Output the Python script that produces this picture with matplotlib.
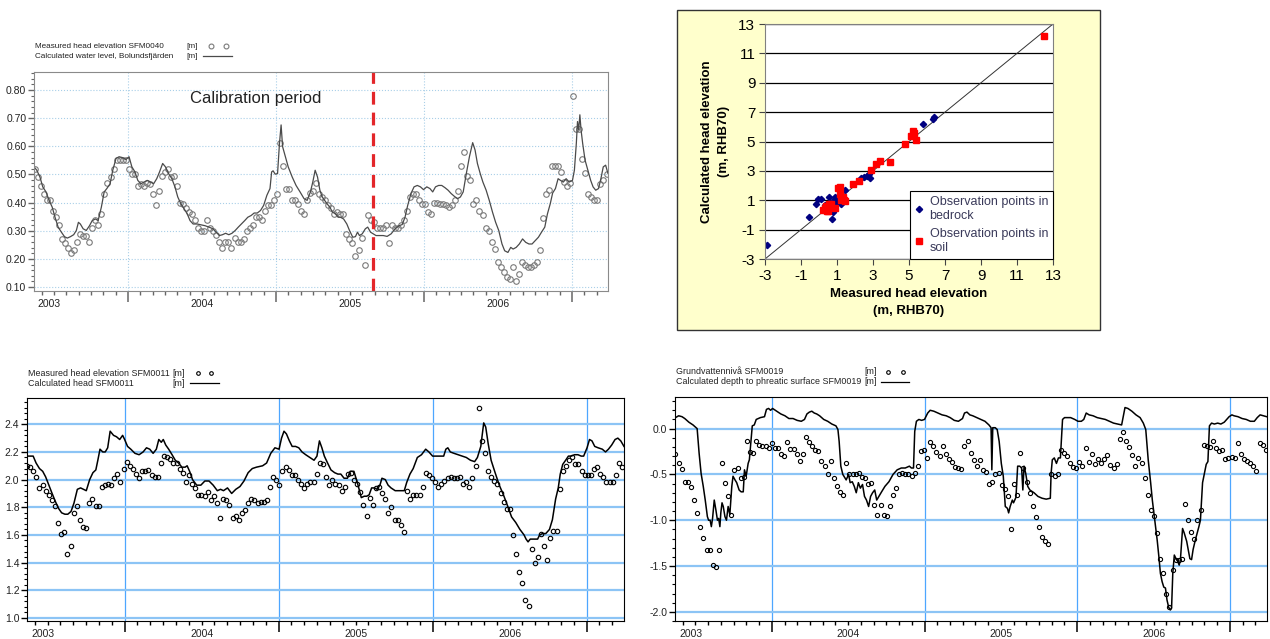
""" Groundwater head: measured vs calculated, four panels. """

import numpy as np
import matplotlib.pyplot as plt
from matplotlib.lines import Line2D
from matplotlib.patches import Rectangle
from matplotlib.ticker import MultipleLocator

plt.rcParams['font.family'] = ['Liberation Sans', 'DejaVu Sans']
plt.rcParams['axes.unicode_minus'] = False

W, H = 1270, 639

YEAR_BOUNDS = [2004, 2005, 2006, 2007]
YEAR_LABELS = ['2003', '2004', '2005', '2006']
YEAR_LABEL_POS = [2003.47, 2004.5, 2005.5, 2006.5]
T_START, T_END = 2003.366, 2007.243

# --- SFM0040 (top left) ---
sfm40_meas_t0, sfm40_meas_t1 = 2003.372, 2007.233
sfm40_meas = [0.52, 0.49, 0.46, 0.43, 0.41, 0.41, 0.37, 0.35, 0.32, 0.27,
              0.255, 0.24, 0.22, 0.23, 0.26, 0.29, 0.28, 0.28, 0.26, 0.31,
              0.34, 0.32, 0.36, 0.43, 0.47, 0.49, 0.52, 0.55, 0.55, 0.55,
              0.55, 0.52, 0.50, 0.50, 0.46, 0.465, 0.46, 0.47, 0.465, 0.43,
              0.39, 0.44, 0.495, 0.51, 0.52, 0.49, 0.495, 0.46, 0.40, 0.395,
              0.38, 0.365, 0.36, 0.34, 0.31, 0.30, 0.30, 0.34, 0.31, 0.30,
              0.285, 0.26, 0.24, 0.26, 0.26, 0.24, 0.275, 0.26, 0.26, 0.27,
              0.30, 0.31, 0.32, 0.35, 0.35, 0.34, 0.37, 0.39, 0.39, 0.41,
              0.43, 0.61, 0.53, 0.45, 0.45, 0.41, 0.41, 0.395, 0.37, 0.36,
              0.41, 0.435, 0.44, 0.47, 0.43, 0.42, 0.41, 0.39, 0.38, 0.36,
              0.365, 0.36, 0.36, 0.29, 0.27, 0.255, 0.21, 0.23, 0.275, 0.18,
              0.355, 0.34, 0.33, 0.31, 0.31, 0.31, 0.32, 0.255, 0.32, 0.31,
              0.31, 0.32, 0.34, 0.37, 0.42, 0.43, 0.43, 0.41, 0.395, 0.395,
              0.365, 0.36, 0.40, 0.40, 0.395, 0.395, 0.39, 0.385, 0.39, 0.41,
              0.44, 0.53, 0.58, 0.495, 0.48, 0.395, 0.41, 0.37, 0.355, 0.31,
              0.30, 0.26, 0.235, 0.19, 0.17, 0.155, 0.135, 0.13, 0.17, 0.12,
              0.145, 0.19, 0.18, 0.17, 0.17, 0.18, 0.19, 0.23, 0.345, 0.43,
              0.445, 0.53, 0.53, 0.53, 0.51, 0.475, 0.46, 0.47, 0.78, 0.66,
              0.66, 0.555, 0.505, 0.43, 0.42, 0.41, 0.41, 0.465, 0.48, 0.50]

sfm40_calc_t = [2003.366, 2003.385, 2003.406, 2003.425, 2003.447, 2003.468, 2003.489, 2003.508,
                2003.529, 2003.551, 2003.572, 2003.591, 2003.612, 2003.634, 2003.652, 2003.666,
                2003.679, 2003.698, 2003.719, 2003.741, 2003.759, 2003.781, 2003.799, 2003.821,
                2003.840, 2003.858, 2003.880, 2003.898, 2003.920, 2003.941, 2003.963, 2003.987,
                2004.008, 2004.027, 2004.048, 2004.067, 2004.088, 2004.110, 2004.131, 2004.152,
                2004.174, 2004.195, 2004.214, 2004.235, 2004.254, 2004.275, 2004.297, 2004.318,
                2004.337, 2004.358, 2004.380, 2004.401, 2004.420, 2004.441, 2004.468, 2004.495,
                2004.521, 2004.548, 2004.575, 2004.596, 2004.618, 2004.639, 2004.660, 2004.682,
                2004.703, 2004.725, 2004.746, 2004.767, 2004.789, 2004.810, 2004.832, 2004.853,
                2004.874, 2004.896, 2004.917, 2004.939, 2004.960, 2004.971, 2004.981, 2004.995,
                2005.011, 2005.024, 2005.035, 2005.045, 2005.061, 2005.083, 2005.110, 2005.136,
                2005.163, 2005.190, 2005.211, 2005.233, 2005.249, 2005.265, 2005.281, 2005.297,
                2005.313, 2005.329, 2005.345, 2005.364, 2005.382, 2005.404, 2005.420, 2005.436,
                2005.457, 2005.479, 2005.497, 2005.519, 2005.537, 2005.551, 2005.564, 2005.583,
                2005.604, 2005.620, 2005.639, 2005.658, 2005.676, 2005.698, 2005.725, 2005.751,
                2005.778, 2005.805, 2005.832, 2005.853, 2005.872, 2005.890, 2005.912, 2005.933,
                2005.955, 2005.976, 2005.997, 2006.019, 2006.040, 2006.059, 2006.078, 2006.099,
                2006.120, 2006.142, 2006.163, 2006.184, 2006.206, 2006.227, 2006.246, 2006.265,
                2006.286, 2006.307, 2006.329, 2006.345, 2006.361, 2006.380, 2006.398, 2006.420,
                2006.441, 2006.463, 2006.484, 2006.505, 2006.527, 2006.545, 2006.567, 2006.586,
                2006.602, 2006.623, 2006.644, 2006.666, 2006.687, 2006.709, 2006.730, 2006.751,
                2006.773, 2006.794, 2006.816, 2006.834, 2006.853, 2006.869, 2006.888, 2006.906,
                2006.922, 2006.941, 2006.960, 2006.981, 2007.003, 2007.016, 2007.029, 2007.037,
                2007.045, 2007.053, 2007.061, 2007.072, 2007.088, 2007.107, 2007.126, 2007.142,
                2007.160, 2007.179, 2007.195, 2007.211, 2007.227, 2007.243]
sfm40_calc_v = [0.527, 0.515, 0.491, 0.456, 0.438, 0.408, 0.384, 0.348, 0.313, 0.295, 0.279,
                0.274, 0.279, 0.286, 0.301, 0.330, 0.324, 0.307, 0.301, 0.318, 0.336, 0.342,
                0.336, 0.384, 0.438, 0.450, 0.467, 0.515, 0.557, 0.563, 0.560, 0.553, 0.563,
                0.527, 0.509, 0.479, 0.467, 0.473, 0.479, 0.473, 0.467, 0.485, 0.509, 0.539,
                0.527, 0.503, 0.485, 0.456, 0.420, 0.396, 0.378, 0.360, 0.336, 0.324, 0.324,
                0.321, 0.318, 0.313, 0.307, 0.295, 0.283, 0.286, 0.291, 0.286, 0.291, 0.301,
                0.313, 0.324, 0.336, 0.348, 0.354, 0.363, 0.363, 0.372, 0.390, 0.426, 0.450,
                0.509, 0.513, 0.501, 0.503, 0.610, 0.676, 0.599, 0.569, 0.527, 0.491, 0.461,
                0.438, 0.414, 0.408, 0.438, 0.473, 0.515, 0.491, 0.444, 0.420, 0.408, 0.396,
                0.384, 0.366, 0.360, 0.348, 0.348, 0.342, 0.324, 0.301, 0.277, 0.279, 0.295,
                0.283, 0.289, 0.307, 0.313, 0.295, 0.289, 0.283, 0.283, 0.283, 0.280, 0.289,
                0.307, 0.318, 0.322, 0.348, 0.390, 0.432, 0.456, 0.461, 0.456, 0.446, 0.456,
                0.450, 0.438, 0.456, 0.461, 0.461, 0.453, 0.444, 0.432, 0.422, 0.414, 0.420,
                0.438, 0.503, 0.563, 0.613, 0.587, 0.539, 0.503, 0.473, 0.444, 0.408, 0.366,
                0.330, 0.301, 0.253, 0.229, 0.223, 0.241, 0.235, 0.241, 0.253, 0.271, 0.259,
                0.253, 0.253, 0.265, 0.277, 0.295, 0.313, 0.360, 0.396, 0.434, 0.450, 0.485,
                0.479, 0.473, 0.485, 0.473, 0.479, 0.515, 0.610, 0.688, 0.658, 0.712, 0.658,
                0.610, 0.551, 0.515, 0.479, 0.456, 0.444, 0.450, 0.485, 0.527, 0.533, 0.503]
CALIBRATION_END = 2005.658

# --- scatter (top right) ---
bedrock_x = [-2.91, -0.57, -0.14, -0.03, 0.09, 0.54, 0.69, 0.75, 0.71, 0.84, 0.90, 1.12, 1.20,
             1.44, 2.33, 2.50, 2.67, 2.76, 2.82, 5.77, 6.34, 6.37, 0.48, 0.35, 0.95, 1.29]
bedrock_y = [-2.07, -0.14, 0.72, 1.08, 1.08, 1.19, 0.76, 0.17, -0.28, 1.03, 1.22, 0.94, 0.74,
             1.67, 2.51, 2.55, 2.62, 2.78, 2.53, 6.18, 6.52, 6.70, 0.35, 0.69, 0.81, 1.03]
soil_x = [0.20, 0.33, 0.43, 0.52, 0.58, 0.39, 0.48, 0.67, 0.90, 1.03, 1.18, 1.18, 1.31, 1.37,
          1.46, 1.22, 1.89, 2.23, 2.89, 3.14, 3.38, 3.93, 4.77, 5.11, 5.21, 5.26, 5.41, 12.49]
soil_y = [0.31, 0.47, 0.29, 0.58, 0.72, 0.58, 0.24, 0.76, 0.49, 1.83, 1.87, 1.44, 1.22, 1.03,
          0.92, 0.99, 2.12, 2.33, 3.03, 3.46, 3.69, 3.62, 4.84, 5.39, 5.73, 5.57, 5.11, 12.21]
SC_RANGE = (-3, 13)

# --- SFM0011 (bottom left) ---
sfm11_meas_t0, sfm11_meas_t1 = 2003.366, 2007.230
sfm11_meas = [2.10, 2.09, 2.06, 2.02, 1.94, 1.96, 1.92, 1.89, 1.85, 1.81,
              1.69, 1.61, 1.62, 1.46, 1.52, 1.76, 1.81, 1.71, 1.66, 1.65,
              1.83, 1.86, 1.81, 1.81, 1.95, 1.96, 1.97, 1.96, 2.01, 2.04,
              1.98, 2.08, 2.13, 2.10, 2.08, 2.04, 2.01, 2.06, 2.06, 2.07,
              2.03, 2.02, 2.02, 2.12, 2.17, 2.16, 2.15, 2.12, 2.12, 2.08,
              2.05, 1.98, 2.03, 1.97, 1.94, 1.89, 1.89, 1.88, 1.91, 1.85,
              1.88, 1.83, 1.72, 1.86, 1.85, 1.82, 1.72, 1.74, 1.71, 1.76,
              1.78, 1.83, 1.86, 1.85, 1.83, 1.84, 1.84, 1.85, 1.95, 2.02,
              2.00, 1.96, 2.06, 2.09, 2.07, 2.03, 2.03, 2.00, 1.97, 1.94,
              1.97, 1.98, 1.98, 2.04, 2.12, 2.11, 2.02, 1.96, 2.00, 1.97,
              1.96, 1.92, 1.95, 2.04, 2.05, 2.00, 1.97, 1.91, 1.82, 1.74,
              1.87, 1.82, 1.94, 1.95, 1.90, 1.86, 1.76, 1.80, 1.71, 1.71,
              1.67, 1.62, 1.92, 1.86, 1.89, 1.89, 1.89, 1.95, 2.05, 2.03,
              2.01, 1.98, 1.95, 1.97, 1.99, 2.01, 2.02, 2.01, 2.01, 2.02,
              1.97, 1.98, 1.95, 2.01, 2.10, 2.52, 2.28, 2.19, 2.06, 2.02,
              1.99, 1.97, 1.90, 1.84, 1.79, 1.79, 1.60, 1.46, 1.33, 1.25,
              1.13, 1.09, 1.50, 1.40, 1.44, 1.61, 1.52, 1.42, 1.58, 1.63,
              1.63, 1.93, 2.06, 2.10, 2.14, 2.16, 2.11, 2.11, 2.06, 2.03,
              2.03, 2.03, 2.08, 2.09, 2.04, 2.02, 1.98, 1.98, 1.98, 2.03,
              2.12, 2.09]

sfm11_calc_t = [2003.366, 2003.385, 2003.406, 2003.425, 2003.447, 2003.468, 2003.487, 2003.508,
                2003.529, 2003.551, 2003.572, 2003.591, 2003.612, 2003.631, 2003.652, 2003.671,
                2003.693, 2003.714, 2003.733, 2003.751, 2003.773, 2003.794, 2003.813, 2003.826,
                2003.840, 2003.858, 2003.874, 2003.890, 2003.906, 2003.928, 2003.947, 2003.968,
                2003.987, 2004.000, 2004.019, 2004.040, 2004.067, 2004.094, 2004.120, 2004.142,
                2004.163, 2004.185, 2004.206, 2004.222, 2004.238, 2004.251, 2004.267, 2004.286,
                2004.308, 2004.329, 2004.350, 2004.372, 2004.393, 2004.406, 2004.422, 2004.441,
                2004.468, 2004.495, 2004.521, 2004.548, 2004.575, 2004.602, 2004.623, 2004.642,
                2004.668, 2004.695, 2004.722, 2004.749, 2004.775, 2004.802, 2004.829, 2004.856,
                2004.896, 2004.922, 2004.949, 2004.976, 2005.003, 2005.019, 2005.035, 2005.051,
                2005.070, 2005.088, 2005.110, 2005.131, 2005.152, 2005.176, 2005.203, 2005.230,
                2005.249, 2005.265, 2005.281, 2005.297, 2005.318, 2005.340, 2005.364, 2005.385,
                2005.404, 2005.425, 2005.447, 2005.465, 2005.489, 2005.511, 2005.537, 2005.556,
                2005.572, 2005.588, 2005.604, 2005.623, 2005.639, 2005.658, 2005.671, 2005.693,
                2005.711, 2005.730, 2005.757, 2005.791, 2005.816, 2005.832, 2005.853, 2005.874,
                2005.901, 2005.928, 2005.955, 2005.976, 2006.000, 2006.019, 2006.051, 2006.072,
                2006.086, 2006.099, 2006.115, 2006.139, 2006.166, 2006.193, 2006.219, 2006.246,
                2006.273, 2006.291, 2006.313, 2006.332, 2006.345, 2006.361, 2006.380, 2006.406,
                2006.433, 2006.460, 2006.487, 2006.513, 2006.540, 2006.567, 2006.594, 2006.607,
                2006.620, 2006.634, 2006.660, 2006.682, 2006.695, 2006.714, 2006.735, 2006.759,
                2006.778, 2006.799, 2006.816, 2006.829, 2006.845, 2006.864, 2006.882, 2006.901,
                2006.922, 2006.944, 2006.965, 2006.981, 2007.003, 2007.019, 2007.035, 2007.053,
                2007.075, 2007.102, 2007.123, 2007.142, 2007.163, 2007.185, 2007.203, 2007.222,
                2007.243]
sfm11_calc_v = [2.17, 2.17, 2.17, 2.12, 2.08, 2.06, 2.02, 1.96, 1.90, 1.84, 1.79, 1.76, 1.75,
                1.75, 1.77, 1.83, 1.93, 1.94, 1.93, 1.92, 2.00, 2.05, 2.07, 2.14, 2.22, 2.20,
                2.20, 2.23, 2.35, 2.32, 2.31, 2.29, 2.32, 2.29, 2.24, 2.22, 2.19, 2.18, 2.20,
                2.23, 2.22, 2.19, 2.22, 2.29, 2.27, 2.29, 2.25, 2.22, 2.18, 2.14, 2.12, 2.09,
                2.09, 2.10, 2.06, 2.00, 1.96, 1.96, 1.99, 1.99, 1.96, 1.92, 1.93, 1.92, 1.94,
                1.90, 1.93, 1.95, 1.99, 2.05, 2.08, 2.09, 2.10, 2.12, 2.19, 2.23, 2.22, 2.30,
                2.35, 2.33, 2.28, 2.24, 2.24, 2.23, 2.20, 2.18, 2.16, 2.14, 2.17, 2.28, 2.23,
                2.17, 2.12, 2.07, 2.05, 2.04, 2.04, 2.01, 2.01, 2.06, 2.06, 1.98, 1.87, 1.88,
                1.88, 1.89, 1.94, 1.94, 1.93, 1.96, 2.01, 2.00, 1.96, 1.94, 1.92, 1.92, 1.92,
                1.98, 2.04, 2.08, 2.16, 2.18, 2.22, 2.20, 2.17, 2.17, 2.17, 2.17, 2.22, 2.23,
                2.20, 2.19, 2.18, 2.17, 2.16, 2.14, 2.13, 2.16, 2.24, 2.41, 2.38, 2.26, 2.14,
                2.05, 1.96, 1.89, 1.81, 1.73, 1.69, 1.64, 1.60, 1.57, 1.55, 1.57, 1.57, 1.57,
                1.60, 1.61, 1.61, 1.64, 1.71, 1.86, 1.94, 2.04, 2.11, 2.14, 2.17, 2.17, 2.18,
                2.18, 2.17, 2.17, 2.23, 2.29, 2.28, 2.24, 2.23, 2.22, 2.20, 2.22, 2.25, 2.29,
                2.30, 2.28, 2.24]

# --- SFM0019 (bottom right) ---
sfm19_meas_t0, sfm19_meas_t1 = 2003.369, 2007.235
sfm19_meas = [-0.28, -0.38, -0.44, -0.58, -0.58, -0.64, -0.78, -0.92, -1.07, -1.19,
              -1.32, -1.32, -1.49, -1.51, -1.32, -0.38, -0.59, -0.74, -0.94, -0.45,
              -0.43, -0.54, -0.53, -0.13, -0.25, -0.27, -0.14, -0.18, -0.19, -0.19,
              -0.21, -0.16, -0.21, -0.21, -0.28, -0.30, -0.15, -0.22, -0.22, -0.28,
              -0.35, -0.28, -0.09, -0.15, -0.19, -0.23, -0.24, -0.35, -0.41, -0.50,
              -0.35, -0.54, -0.63, -0.69, -0.72, -0.38, -0.50, -0.50, -0.50, -0.49,
              -0.53, -0.54, -0.61, -0.59, -0.83, -0.94, -0.83, -0.94, -0.95, -0.85,
              -0.72, -0.65, -0.50, -0.49, -0.50, -0.50, -0.52, -0.49, -0.41, -0.24,
              -0.23, -0.32, -0.15, -0.19, -0.25, -0.30, -0.19, -0.28, -0.33, -0.36,
              -0.42, -0.43, -0.44, -0.19, -0.14, -0.27, -0.34, -0.41, -0.34, -0.45,
              -0.47, -0.61, -0.58, -0.50, -0.49, -0.62, -0.66, -0.74, -1.10, -0.60,
              -0.73, -0.27, -0.43, -0.58, -0.70, -0.85, -0.96, -1.07, -1.18, -1.23,
              -1.26, -0.50, -0.52, -0.50, -0.23, -0.27, -0.30, -0.38, -0.42, -0.43,
              -0.36, -0.41, -0.21, -0.36, -0.28, -0.39, -0.33, -0.38, -0.33, -0.29,
              -0.40, -0.43, -0.39, -0.11, -0.04, -0.13, -0.20, -0.29, -0.41, -0.32,
              -0.37, -0.54, -0.72, -0.89, -0.95, -1.14, -1.42, -1.58, -1.80, -1.95,
              -1.54, -1.43, -1.43, -1.42, -0.82, -1.00, -1.13, -1.21, -1.00, -0.89,
              -0.18, -0.19, -0.20, -0.13, -0.21, -0.24, -0.23, -0.33, -0.32, -0.31,
              -0.32, -0.16, -0.28, -0.33, -0.35, -0.38, -0.41, -0.46, -0.16, -0.18,
              -0.23]

sfm19_calc_t = [2003.369, 2003.390, 2003.412, 2003.430, 2003.457, 2003.484, 2003.511, 2003.524,
                2003.537, 2003.551, 2003.564, 2003.578, 2003.586, 2003.596, 2003.604, 2003.612,
                2003.623, 2003.634, 2003.644, 2003.652, 2003.660, 2003.666, 2003.674, 2003.682,
                2003.693, 2003.703, 2003.714, 2003.725, 2003.738, 2003.746, 2003.759, 2003.770,
                2003.786, 2003.799, 2003.813, 2003.821, 2003.832, 2003.845, 2003.853, 2003.872,
                2003.885, 2003.898, 2003.925, 2003.952, 2003.965, 2003.979, 2003.992, 2004.005,
                2004.032, 2004.059, 2004.086, 2004.112, 2004.139, 2004.166, 2004.193, 2004.214,
                2004.230, 2004.246, 2004.262, 2004.278, 2004.294, 2004.313, 2004.340, 2004.366,
                2004.393, 2004.406, 2004.420, 2004.433, 2004.441, 2004.452, 2004.465, 2004.487,
                2004.503, 2004.513, 2004.527, 2004.540, 2004.553, 2004.567, 2004.580, 2004.594,
                2004.607, 2004.620, 2004.634, 2004.647, 2004.660, 2004.674, 2004.687, 2004.701,
                2004.719, 2004.741, 2004.767, 2004.794, 2004.821, 2004.848, 2004.874, 2004.901,
                2004.914, 2004.928, 2004.936, 2004.947, 2004.963, 2004.981, 2005.000, 2005.021,
                2005.037, 2005.061, 2005.088, 2005.115, 2005.142, 2005.168, 2005.195, 2005.222,
                2005.249, 2005.262, 2005.278, 2005.297, 2005.316, 2005.342, 2005.369, 2005.396,
                2005.422, 2005.436, 2005.441, 2005.447, 2005.463, 2005.476, 2005.489, 2005.503,
                2005.516, 2005.529, 2005.543, 2005.551, 2005.561, 2005.575, 2005.583, 2005.599,
                2005.610, 2005.623, 2005.636, 2005.644, 2005.652, 2005.663, 2005.676, 2005.690,
                2005.717, 2005.743, 2005.770, 2005.797, 2005.824, 2005.829, 2005.837, 2005.850,
                2005.864, 2005.877, 2005.890, 2005.904, 2005.917, 2005.936, 2005.957, 2005.984,
                2006.005, 2006.027, 2006.043, 2006.059, 2006.078, 2006.104, 2006.131, 2006.158,
                2006.184, 2006.211, 2006.238, 2006.265, 2006.291, 2006.313, 2006.332, 2006.358,
                2006.385, 2006.412, 2006.433, 2006.449, 2006.465, 2006.481, 2006.492, 2006.508,
                2006.524, 2006.535, 2006.545, 2006.556, 2006.567, 2006.578, 2006.588, 2006.599,
                2006.610, 2006.618, 2006.626, 2006.636, 2006.647, 2006.658, 2006.668, 2006.676,
                2006.690, 2006.701, 2006.717, 2006.727, 2006.738, 2006.749, 2006.759, 2006.773,
                2006.786, 2006.797, 2006.807, 2006.821, 2006.832, 2006.845, 2006.856, 2006.866,
                2006.880, 2006.898, 2006.920, 2006.941, 2006.963, 2006.979, 2006.995, 2007.013,
                2007.027, 2007.053, 2007.080, 2007.107, 2007.134, 2007.160, 2007.179, 2007.198,
                2007.219, 2007.241]
sfm19_calc_v = [0.12, 0.14, 0.13, 0.11, 0.07, 0.04, 0.00, -0.27, -0.49, -0.63, -0.78, -0.96,
                -1.00, -1.00, -1.07, -0.98, -0.78, -0.89, -1.00, -0.98, -1.07, -0.92, -0.81,
                -0.85, -0.96, -1.00, -0.85, -0.94, -0.63, -0.52, -0.56, -0.59, -0.67, -0.69,
                -0.69, -0.45, -0.52, -0.38, -0.34, 0.03, 0.04, 0.10, 0.12, 0.13, 0.21, 0.22,
                0.20, 0.22, 0.19, 0.16, 0.14, 0.11, 0.11, 0.09, 0.08, 0.10, 0.16, 0.18, 0.19,
                0.17, 0.16, 0.14, 0.10, 0.08, 0.05, 0.04, 0.03, -0.01, -0.14, -0.41, -0.50,
                -0.56, -0.50, -0.59, -0.58, -0.63, -0.70, -0.59, -0.65, -0.61, -0.74, -0.78,
                -0.85, -0.74, -0.70, -0.67, -0.78, -0.74, -0.69, -0.63, -0.58, -0.50, -0.45,
                -0.43, -0.43, -0.41, -0.43, -0.43, -0.03, 0.08, 0.10, 0.09, 0.10, 0.17, 0.20,
                0.19, 0.17, 0.15, 0.14, 0.12, 0.09, 0.08, 0.11, 0.17, 0.18, 0.15, 0.14, 0.12,
                0.10, 0.08, 0.04, 0.01, -0.45, 0.01, 0.01, -0.01, -0.14, -0.38, -0.52, -0.85,
                -0.87, -0.92, -0.85, -0.78, -0.81, -0.75, -0.41, -0.41, -0.43, -0.67, -0.41,
                -0.49, -0.63, -0.67, -0.70, -0.74, -0.76, -0.77, -0.76, -0.49, -0.34, -0.32,
                -0.38, -0.32, -0.32, 0.10, 0.12, 0.12, 0.12, 0.10, 0.08, 0.08, 0.10, 0.17,
                0.15, 0.14, 0.12, 0.11, 0.10, 0.08, 0.06, 0.05, 0.04, 0.23, 0.22, 0.19, 0.15,
                0.12, 0.06, -0.01, -0.34, -0.59, -0.78, -1.00, -1.22, -1.40, -1.58, -1.67,
                -1.73, -1.74, -1.87, -1.95, -1.98, -1.96, -1.58, -1.38, -1.42, -1.45, -1.49,
                -1.43, -1.09, -1.14, -1.23, -1.32, -1.42, -1.43, -1.32, -1.22, -1.14, -1.07,
                -1.00, -0.59, -0.50, -0.39, -0.36, 0.03, 0.06, 0.05, 0.06, 0.05, 0.07, 0.10,
                0.13, 0.15, 0.14, 0.13, 0.11, 0.10, 0.08, 0.08, 0.12, 0.15, 0.14, 0.13]


def fig_rect(left, top, right, bottom):
    """Pixel box -> figure fraction rect."""
    return [left / W, 1 - bottom / H, (right - left) / W, (bottom - top) / H]


def header(lines, x0, y0, unit_x, dots_x, line_x, mcolor, lcolor, ms, fs=6.4):
    """Text legend above a time-series panel."""
    for i, txt in enumerate(lines):
        y = 1 - (y0 + 10 * i) / H
        fig.text(x0 / W, y, txt, fontsize=fs, va='center', ha='left', color='#222222')
        fig.text(unit_x / W, y, '[m]', fontsize=fs, va='center', ha='left', color='#222222')
    fig.add_artist(Line2D([x / W for x in dots_x], [1 - y0 / H] * 2, ls='none', marker='o',
                          ms=ms, mfc='none', mec=mcolor, mew=0.8))
    fig.add_artist(Line2D([x / W for x in line_x], [1 - (y0 + 10) / H] * 2, color=lcolor, lw=0.9))


def time_axes(ax, ylim, ymajor, yminor, fmt, grid_kw, vgrid_kw, tick_color):
    ax.set_xlim(T_START, T_END)
    ax.set_ylim(*ylim)
    ax.set_xticks(YEAR_BOUNDS)
    ax.set_xticklabels([])
    months = [y + m / 12 for y in range(2003, 2008) for m in range(1, 12)]
    ax.set_xticks([m for m in months if T_START < m < T_END], minor=True)
    ax.yaxis.set_major_locator(MultipleLocator(ymajor))
    ax.yaxis.set_minor_locator(MultipleLocator(yminor))
    ax.yaxis.set_major_formatter(fmt)
    ax.tick_params(axis='x', which='major', direction='out', length=8, width=1.1, color=tick_color)
    ax.tick_params(axis='x', which='minor', direction='out', length=3, width=1.0, color=tick_color)
    ax.tick_params(axis='y', which='major', direction='out', length=4, width=1.0,
                   color=tick_color, labelsize=7.5, pad=1.5, labelcolor='#222222')
    ax.tick_params(axis='y', which='minor', direction='out', length=2.5, width=0.8, color=tick_color)
    ax.grid(axis='y', which='major', **grid_kw)
    ax.grid(axis='x', which='major', **vgrid_kw)
    ax.set_axisbelow(True)
    for pos, lab in zip(YEAR_LABEL_POS, YEAR_LABELS):
        ax.text(pos, -0.035, lab, transform=ax.get_xaxis_transform(), ha='center', va='top',
                fontsize=7.5, color='#222222')


fig = plt.figure(figsize=(W / 100, H / 100), dpi=100)

# ---------- top left: SFM0040 ----------
ax1 = fig.add_axes(fig_rect(34, 72, 608, 291))
time_axes(ax1, (0.086, 0.864), 0.1, 0.02, '{x:.2f}',
          dict(color='#a9cfe8', lw=0.8, ls=':'), dict(color='#a9cfe8', lw=0.8, ls=':'), '#666666')
for s in ax1.spines.values():
    s.set_color('#8a8a8a')
t40 = np.linspace(sfm40_meas_t0, sfm40_meas_t1, len(sfm40_meas))
ax1.plot(t40, sfm40_meas, ls='none', marker='o', ms=4, mfc='none', mec='#7a7a7a', mew=0.8)
ax1.plot(sfm40_calc_t, sfm40_calc_v, color='#4a4a4a', lw=0.9)
ax1.axvline(CALIBRATION_END, color='#e3262a', lw=2.3, ls=(0, (4, 2.5)))
ax1.text(2004.861, 0.77, 'Calibration period', fontsize=12, ha='center', va='center',
         color='#222222')
header(['Measured head elevation SFM0040', 'Calculated water level, Bolundsfjärden'],
       35, 46, 186, (211, 226), (203, 232), '#7a7a7a', '#4a4a4a', 3.5, fs=5.9)

# ---------- top right: scatter ----------
fig.add_artist(Rectangle((677 / W, 1 - 330 / H), (1100 - 677) / W, 320 / H,
                         transform=fig.transFigure, facecolor='#ffffcc',
                         edgecolor='#333333', lw=1.0, zorder=-1))
ax2 = fig.add_axes(fig_rect(765, 24, 1053, 259))
ax2.set_facecolor('white')
ax2.set_xlim(*SC_RANGE)
ax2.set_ylim(*SC_RANGE)
ticks = list(range(SC_RANGE[0], SC_RANGE[1] + 1, 2))
ax2.set_xticks(ticks)
ax2.set_yticks(ticks)
ax2.grid(axis='y', color='black', lw=0.9)
ax2.set_axisbelow(True)
for s in ax2.spines.values():
    s.set_color('#808080')
ax2.tick_params(labelsize=11, length=4, color='#444444', pad=3, labelcolor='black')
ax2.plot(SC_RANGE, SC_RANGE, color='#333333', lw=0.7)
ax2.plot(bedrock_x, bedrock_y, ls='none', marker='D', ms=3.2, color='#000080',
         label='Observation points in\nbedrock')
ax2.plot(soil_x, soil_y, ls='none', marker='s', ms=4, color='#ff0000',
         label='Observation points in\nsoil')
ax2.set_xlabel('Measured head elevation\n(m, RHB70)', fontsize=9.5, fontweight='bold',
               labelpad=4, linespacing=1.5)
ax2.set_ylabel('Calculated head elevation\n(m, RHB70)', fontsize=9.5, fontweight='bold',
               labelpad=6, linespacing=1.5)
leg = ax2.legend(loc='lower right', borderaxespad=0, fancybox=False, edgecolor='black',
                 fontsize=9, handlelength=0.7, handletextpad=0.5, labelspacing=0.5,
                 borderpad=0.4, labelcolor='#3a3a5a', framealpha=1)
leg.get_frame().set_linewidth(0.8)

# ---------- bottom left: SFM0011 ----------
solid_h = dict(color='#8cc4f5', lw=1.6)
solid_v = dict(color='#4da6ff', lw=0.9)
ax3 = fig.add_axes(fig_rect(27, 398, 624, 621))
time_axes(ax3, (0.978, 2.59), 0.2, 0.04, '{x:.1f}', solid_h, solid_v, 'black')
t11 = np.linspace(sfm11_meas_t0, sfm11_meas_t1, len(sfm11_meas))
ax3.plot(t11, sfm11_meas, ls='none', marker='o', ms=3.2, mfc='none', mec='black', mew=0.8)
ax3.plot(sfm11_calc_t, sfm11_calc_v, color='black', lw=1.1)
header(['Measured head elevation SFM0011', 'Calculated head SFM0011'],
       28, 373, 172, (198, 211), (190, 219), 'black', 'black', 2.6)

# ---------- bottom right: SFM0019 ----------
ax4 = fig.add_axes(fig_rect(675, 397, 1267, 621))
time_axes(ax4, (-2.10, 0.345), 0.5, 0.1, '{x:.1f}', solid_h, solid_v, 'black')
t19 = np.linspace(sfm19_meas_t0, sfm19_meas_t1, len(sfm19_meas))
ax4.plot(t19, sfm19_meas, ls='none', marker='o', ms=3.0, mfc='none', mec='black', mew=0.8)
ax4.plot(sfm19_calc_t, sfm19_calc_v, color='black', lw=1.1)
header(['Grundvattennivå SFM0019', 'Calculated depth to phreatic surface SFM0019'],
       676, 372, 864, (888, 903), (881, 909), 'black', 'black', 2.6)

fig.savefig('out.png', dpi=100)
